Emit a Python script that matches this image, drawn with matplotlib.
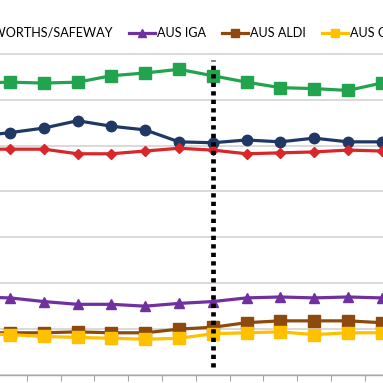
"""Cuota de mercat per supermercat (retall del gràfic original)."""

import matplotlib.pyplot as plt
import numpy as np

# valors llegits del gràfic, un per període
total = [26.0, 26.4, 26.9, 27.7, 27.1, 26.7, 25.4, 25.3, 25.6, 25.4, 25.8, 25.4, 25.4]
coles = [24.6, 24.6, 24.6, 24.1, 24.1, 24.4, 24.7, 24.5, 24.1, 24.2, 24.3, 24.5, 24.4]
woolworths = [31.8, 31.9, 31.8, 31.9, 32.6, 32.9, 33.3, 32.6, 31.9, 31.3, 31.2, 31.0, 31.8]
iga = [8.5, 8.4, 8.0, 7.7, 7.7, 7.5, 7.8, 8.0, 8.4, 8.5, 8.4, 8.5, 8.4]
aldi = [4.6, 4.6, 4.6, 4.7, 4.6, 4.6, 5.0, 5.2, 5.7, 5.9, 5.9, 5.9, 5.7]
costco = [4.5, 4.4, 4.2, 4.1, 4.0, 3.9, 4.0, 4.5, 4.6, 4.7, 4.4, 4.6, 4.6]

labels = [
    "AUS TOTAL",
    "AUS COLES",
    "AUS WOOLWORTHS/SAFEWAY",
    "AUS IGA",
    "AUS ALDI",
    "AUS COSTCO",
]
break_period = 7

plt.rcParams["font.family"] = ["Lato", "DejaVu Sans"]

series = [total, coles, woolworths, iga, aldi, costco]
colors = ["#1f3864", "#d9262a", "#22a34e", "#7030a0", "#8e4a0e", "#ffc000"]
markers = ["o", "D", "s", "^", "s", "s"]
sizes = [7.5, 5.5, 8, 7, 8, 8]
order = [2, 3, 1, 4, 5, 6]

fig = plt.figure(figsize=(3.83, 3.83), dpi=100)
ax = fig.add_axes([0, 0, 1, 1])

x = np.arange(len(total))
lines = []
for vals, col, mk, ms, z, lab in zip(series, colors, markers, sizes, order, labels):
    (ln,) = ax.plot(
        x, vals, color=col, lw=2.3, marker=mk, ms=ms,
        mec=col, mfc=col, zorder=z + 2, label=lab,
    )
    lines.append(ln)

ax.axvline(
    break_period, ymin=0.042, ymax=0.843, color="black",
    lw=3.4, ls=(0, (0.9, 0.9)), zorder=20,
)

ax.set_yticks(np.arange(0, 40, 5))
ax.yaxis.grid(True, color="#d0d0d0", lw=1.1)
ax.set_axisbelow(True)
ax.tick_params(axis="y", length=0, labelleft=False)

ax.set_xticks(np.arange(0.5, 13, 1))
ax.tick_params(axis="x", direction="out", length=4.5, width=0.8,
               color="#a6a6a6", labelbottom=False)

# els límits després dels ticks, que si no els amplien
ax.set_xlim(0.704, 12.04)
ax.set_ylim(-0.87, 40.85)

for side in ["left", "right", "top"]:
    ax.spines[side].set_visible(False)
ax.spines["bottom"].set_position(("data", 0))
ax.spines["bottom"].set_color("#a6a6a6")
ax.spines["bottom"].set_linewidth(1.0)

fig.legend(
    handles=lines[2:], labels=labels[2:],
    loc="center left", bbox_to_anchor=(-0.269, 0.914),
    ncol=4, frameon=False, fontsize=9.1,
    handlelength=2.1, handletextpad=0.1, columnspacing=1.3,
    borderpad=0, borderaxespad=0, markerscale=0.8,
)

fig.savefig("out.png", dpi=100)
plt.close(fig)
